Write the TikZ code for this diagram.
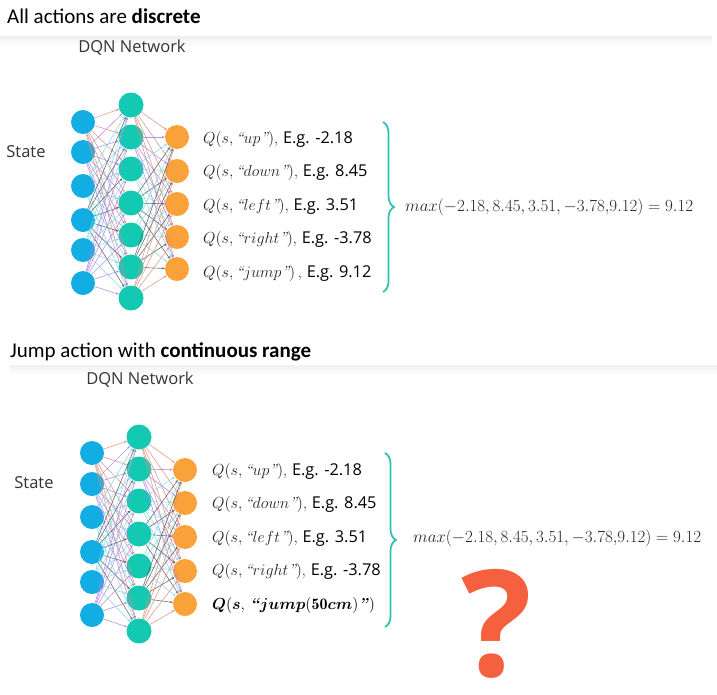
\RequirePackage{fix-cm}
\documentclass[tikz,border=0pt]{standalone}
\usepackage{amsmath}
\usepackage{fontspec}
\usetikzlibrary{arrows.meta,decorations.pathreplacing}
\newfontfamily\calibrifont{Carlito}
\newfontfamily\opensfont{Open Sans}
\definecolor{cblue}{HTML}{12AEE3}
\definecolor{cteal}{HTML}{14C9B2}
\definecolor{corange}{HTML}{F9A23A}
\definecolor{cbrace}{HTML}{2CC3B5}
\definecolor{cred}{HTML}{D98C80}
\definecolor{cpurp}{HTML}{B07FE0}
\definecolor{ccyan}{HTML}{7DD7E2}
\definecolor{cdark}{HTML}{555555}
\definecolor{cqm}{HTML}{F5603F}
\tikzset{
  inn/.style={circle,fill=cblue,minimum size=24pt,inner sep=0},
  hid/.style={circle,fill=cteal,minimum size=25pt,inner sep=0},
  outn/.style={circle,fill=corange,minimum size=24pt,inner sep=0},
  edge/.style={line width=0.6pt,draw opacity=0.85,-{Stealth[length=3pt,width=2.4pt]}},
  titletext/.style={anchor=west,inner sep=0,font=\fontsize{21}{24}\calibrifont},
  sanslabel/.style={inner sep=0,text=black!80,font=\fontsize{16.5}{19}\opensfont},
  qtext/.style={anchor=west,inner sep=0,font=\fontsize{16}{19}\selectfont},
  maxtext/.style={anchor=west,inner sep=0,text=black!85,font=\fontsize{17}{20}\selectfont},
  bracestyle/.style={draw=cbrace,line width=1.8pt,decorate,decoration={brace,amplitude=11pt}},
  band/.style={top color=black!6,bottom color=white,draw=none}
}
\newcommand{\eg}[1]{{\opensfont\fontsize{16.3}{19}\selectfont\color{black} E.g. #1}}
\newcommand{\qm}[1]{\textcolor{black!85}{$#1$}}
\newcommand{\bq}[1]{\textbf{\textit{#1}}}
\begin{document}
\begin{tikzpicture}[x=1pt,y=-1pt]
\useasboundingbox (0,0) rectangle (717,694);
% panel shading
\fill[band] (0,36) rectangle (712,46);
\fill[band] (10,365) rectangle (717,375);
% titles
\node[titletext] (t1) at (7,16) {All actions are \textbf{discrete}};
\node[titletext] (t2) at (10,352) {Jump action with \textbf{continuous range}};
\node[sanslabel] (n1) at (132,48) {DQN Network};
\node[sanslabel] (n2) at (140,380) {DQN Network};
\node[sanslabel] (s1) at (26,152) {State};
\node[sanslabel] (s2) at (34,483) {State};
% ---------- top network ----------
\foreach \y [count=\i] in {122,152,186,220,250,283} \node[inn] (ai\i) at (83,\y) {};
\foreach \y [count=\i] in {105,137,169,203,235,267,298} \node[hid] (ah\i) at (131,\y) {};
\foreach \y [count=\i] in {137,171,204,237,269} \node[outn] (ao\i) at (177,\y) {};
\foreach \i/\c in {1/cred,2/cpurp,3/ccyan,4/cdark,5/ccyan,6/cpurp}
  \foreach \j in {1,...,7} \draw[edge,\c] (ai\i) -- (ah\j);
\foreach \i/\c in {1/cred,2/cpurp,3/ccyan,4/cdark,5/ccyan,6/cdark,7/cred}
  \foreach \j in {1,...,5} \draw[edge,\c] (ah\i) -- (ao\j);
% ---------- bottom network ----------
\foreach \y [count=\i] in {453,484,517,552,582,615} \node[inn] (bi\i) at (92,\y) {};
\foreach \y [count=\i] in {437,469,501,534,566,598,631} \node[hid] (bh\i) at (139,\y) {};
\foreach \y [count=\i] in {470,503,537,571,604} \node[outn] (bo\i) at (185,\y) {};
\foreach \i/\c in {1/cred,2/cpurp,3/ccyan,4/cdark,5/ccyan,6/cpurp}
  \foreach \j in {1,...,7} \draw[edge,\c] (bi\i) -- (bh\j);
\foreach \i/\c in {1/cred,2/cpurp,3/ccyan,4/cdark,5/ccyan,6/cdark,7/cred}
  \foreach \j in {1,...,5} \draw[edge,\c] (bh\i) -- (bo\j);
% ---------- top texts ----------
\node[qtext] (aq1) at (203,139) {\qm{Q(s, \textit{``}up\textit{''})}, \eg{-2.18}};
\node[qtext] (aq2) at (203,172) {\qm{Q(s, \textit{``}down\textit{''})}, \eg{8.45}};
\node[qtext] (aq3) at (203,206) {\qm{Q(s, \textit{``}left\textit{''})}, \eg{3.51}};
\node[qtext] (aq4) at (203,239) {\qm{Q(s, \textit{``}right\textit{''})}, \eg{-3.78}};
\node[qtext] (aq5) at (203,273) {\qm{Q(s, \textit{``}jump\textit{''})}\,, \eg{9.12}};
\coordinate (ab1) at (383,122);
\coordinate (ab2) at (383,292);
\draw[bracestyle] (ab1) -- (ab2);
\node[maxtext] (am) at (405,207) {$max(-2.18, 8.45, 3.51, -3.78{,}9.12) = 9.12$};
% ---------- bottom texts ----------
\node[qtext] (bq1) at (212,471) {\qm{Q(s, \textit{``}up\textit{''})}, \eg{-2.18}};
\node[qtext] (bq2) at (212,504) {\qm{Q(s, \textit{``}down\textit{''})}, \eg{8.45}};
\node[qtext] (bq3) at (212,538) {\qm{Q(s, \textit{``}left\textit{''})}, \eg{3.51}};
\node[qtext] (bq4) at (212,571) {\qm{Q(s, \textit{``}right\textit{''})}, \eg{-3.78}};
\node[qtext] (bq5) at (212,605) {$\boldsymbol{Q}\mathbf{(}\boldsymbol{s}\mathbf{,}\ \bq{``}\boldsymbol{jump}\mathbf{(50}\boldsymbol{cm}\mathbf{)}\bq{''}\mathbf{)}$};
\coordinate (bb1) at (385,453);
\coordinate (bb2) at (385,627);
\draw[bracestyle] (bb1) -- (bb2);
\node[maxtext] (bm) at (413,538) {$max(-2.18, 8.45, 3.51, -3.78{,}9.12) = 9.12$};
% question mark
\node[text=cqm,inner sep=0,font=\fontsize{148}{148}\opensfont\bfseries] (qmark) at (497,624) {?};
\end{tikzpicture}
\end{document}
